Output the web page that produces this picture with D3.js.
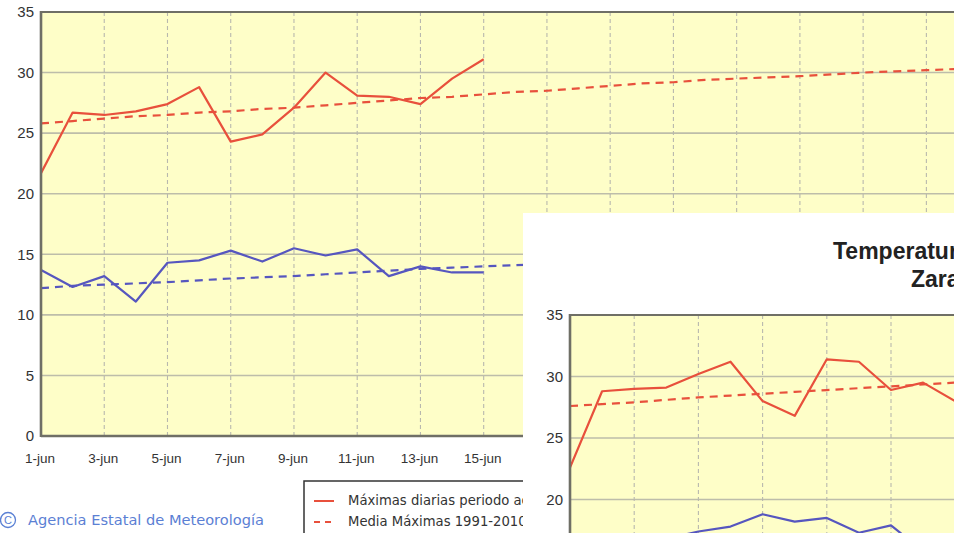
<!DOCTYPE html>
<html><head><meta charset="utf-8">
<script src="https://cdn.jsdelivr.net/npm/d3@7/dist/d3.min.js"></script>
<style>
html,body{margin:0;padding:0;background:#fff;overflow:hidden;}
svg{display:block;}
text{font-family:"Liberation Sans",Arial,sans-serif;}
text.verd{font-family:"DejaVu Sans",Verdana,sans-serif;}
</style></head><body>
<svg id="chart" width="954" height="533"></svg>
<script>
// ---------- DATA ----------
const days = [1,2,3,4,5,6,7,8,9,10,11,12,13,14,15,16,17,18,19,20,21,22,23,24,25,26,27,28,29,30];
const tickDays = [1,3,5,7,9,11,13,15,17,19,21,23,25,27,29];
const tickLabels = ["1-jun","3-jun","5-jun","7-jun","9-jun","11-jun","13-jun","15-jun","17-jun","19-jun","21-jun","23-jun","25-jun","27-jun","29-jun"];
const yTicks = [0,5,10,15,20,25,30,35];

// Main chart series
const mainMaxDaily = [21.7,26.7,26.5,26.8,27.4,28.8,24.3,24.9,27.1,30.0,28.1,28.0,27.4,29.5,31.1];
const mainMeanMax = [25.8,26.0,26.2,26.4,26.5,26.7,26.8,27.0,27.1,27.3,27.5,27.7,27.9,28.0,28.2,28.4,28.5,28.7,28.9,29.1,29.2,29.4,29.5,29.6,29.7,29.85,30.0,30.1,30.2,30.3];
const mainMinDaily = [13.7,12.3,13.2,11.1,14.3,14.5,15.3,14.4,15.5,14.9,15.4,13.2,14.0,13.5,13.5];
const mainMeanMin = [12.2,12.4,12.5,12.6,12.7,12.85,13.0,13.1,13.2,13.35,13.5,13.65,13.8,13.9,14.0,14.1,14.2,14.35,14.5,14.6,14.7,14.8,14.9,15.0,15.1,15.2,15.3,15.4,15.5,15.6];

// Inset chart series
const insetMaxDaily = [22.6,28.8,29.0,29.1,30.2,31.2,28.0,26.8,31.4,31.2,28.9,29.5,28.0];
const insetMeanMax = [27.6,27.75,27.9,28.1,28.3,28.45,28.6,28.75,28.9,29.05,29.2,29.35,29.5,29.6,29.7,29.8,29.9,30.0,30.1,30.2,30.3,30.4,30.5,30.6,30.7,30.8,30.9,31.0,31.1,31.2];
const insetMinDaily = [15.8,15.5,16.4,16.8,17.4,17.8,18.8,18.2,18.5,17.3,17.9,15.8,16.8];
const insetMeanMin = [14.5,14.6,14.7,14.8,14.9,15.0,15.1,15.2,15.3,15.4,15.5,15.6,15.7,15.8,15.9,16.0,16.1,16.2,16.3,16.4,16.5,16.6,16.7,16.8,16.9,17.0,17.1,17.2,17.3,17.4];
const insetYTicks = [20,25,30,35];

const legendItems = [
  {label:"Máximas diarias periodo actual", color:"#e8503c", dash:null},
  {label:"Media Máximas 1991-2010", color:"#e8503c", dash:"6,5"}
];

const RED = "#e8503c", BLUE = "#5656bf", PLOT_BG = "#fefec8";

const svg = d3.select("#chart");

function drawPlot(g, opt){
  const x = d3.scaleLinear().domain([1,30]).range([opt.left, opt.right]);
  const y = d3.scaleLinear().domain([0,35]).range([opt.bottom, opt.top]);
  const clipId = opt.id + "-clip";
  g.append("clipPath").attr("id", clipId).append("rect")
    .attr("x", opt.left).attr("y", opt.top).attr("width", opt.right-opt.left).attr("height", opt.bottom-opt.top);
  g.append("rect").attr("x", opt.left).attr("y", opt.top)
    .attr("width", opt.right-opt.left).attr("height", opt.bottom-opt.top).attr("fill", PLOT_BG);
  // horizontal grid
  g.append("g").selectAll("line").data(yTicks.filter(v=>v>0 && v<35)).join("line")
    .attr("x1", opt.left).attr("x2", opt.right)
    .attr("y1", d=>y(d)).attr("y2", d=>y(d))
    .attr("stroke", "#bdbdaa").attr("stroke-width", 1.6);
  // vertical dashed grid
  g.append("g").selectAll("line").data(tickDays.filter(d=>d>1)).join("line")
    .attr("x1", d=>x(d)).attr("x2", d=>x(d))
    .attr("y1", opt.top).attr("y2", opt.bottom)
    .attr("stroke", "#b8b8ae").attr("stroke-width", 1.1).attr("stroke-dasharray", "4,3");
  // series
  const line = d3.line().x((d,i)=>x(days[i])).y(d=>y(d));
  const lg = g.append("g").attr("clip-path", `url(#${clipId})`);
  const series = [
    {data: opt.meanMax, color: RED, dash:"8,6"},
    {data: opt.meanMin, color: BLUE, dash:"8,6"},
    {data: opt.maxDaily, color: RED, dash:null},
    {data: opt.minDaily, color: BLUE, dash:null}
  ];
  series.forEach(s=>{
    lg.append("path").attr("d", line(s.data)).attr("fill","none")
      .attr("stroke", s.color).attr("stroke-width", 2.2)
      .attr("stroke-dasharray", s.dash).attr("stroke-linejoin","round");
  });
  // borders
  g.append("line").attr("x1", opt.left).attr("x2", opt.right).attr("y1", opt.top).attr("y2", opt.top)
    .attr("stroke", "#6f6f66").attr("stroke-width", 2);
  g.append("line").attr("x1", opt.left).attr("x2", opt.right).attr("y1", opt.bottom).attr("y2", opt.bottom)
    .attr("stroke", "#6f6f66").attr("stroke-width", 2.4);
  g.append("line").attr("x1", opt.left).attr("x2", opt.left).attr("y1", opt.top-1).attr("y2", opt.bottom+1)
    .attr("stroke", "#6f6f66").attr("stroke-width", 2.6);
  // y labels
  g.append("g").selectAll("text").data(opt.yLabels).join("text")
    .attr("x", opt.left-7).attr("y", d=>y(d)).attr("dy","0.35em")
    .attr("text-anchor","end").attr("font-size", opt.yFont).attr("fill","#333")
    .text(d=>d);
  // x labels
  if (opt.xLabels){
    g.append("g").selectAll("text").data(tickDays).join("text")
      .attr("x", d=>x(d)-1).attr("y", opt.bottom+27)
      .attr("text-anchor","middle").attr("font-size", 13.5).attr("fill","#333")
      .text((d,i)=>tickLabels[i]);
  }
  return {x,y};
}

// ---------- MAIN CHART ----------
const main = svg.append("g");
drawPlot(main, {id:"main", left:41, right:958, top:12, bottom:436,
  maxDaily: mainMaxDaily, meanMax: mainMeanMax, minDaily: mainMinDaily, meanMin: mainMeanMin,
  yLabels: yTicks, yFont: 15, xLabels: true});

// legend (partly hidden behind the inset, as in the original)
main.append("clipPath").attr("id","leg-clip").append("rect")
  .attr("x",0).attr("y",0).attr("width",523).attr("height",533);
const leg = main.append("g").attr("clip-path","url(#leg-clip)");
leg.append("rect").attr("x",304).attr("y",481).attr("width",330).attr("height",90)
  .attr("fill","#fff").attr("stroke","#333").attr("stroke-width",1.5);
legendItems.forEach((it,i)=>{
  const yy = 500 + i*21;
  leg.append("line").attr("x1",314).attr("x2",334).attr("y1",yy+1).attr("y2",yy+1)
    .attr("stroke",it.color).attr("stroke-width",2).attr("stroke-dasharray",it.dash);
  leg.append("text").attr("class","verd").attr("x",348).attr("y",yy).attr("dy","0.35em")
    .attr("font-size",13.2).attr("fill","#333").text(it.label);
});

// credit
const cr = main.append("g");
cr.append("circle").attr("cx",8).attr("cy",520).attr("r",7.5).attr("fill","none").attr("stroke","#5b80d4").attr("stroke-width",1.3);
cr.append("text").attr("x",8).attr("y",520).attr("dy","0.36em").attr("text-anchor","middle")
  .attr("font-size",11).attr("fill","#5b80d4").text("C");
cr.append("text").attr("class","verd").attr("x",28).attr("y",520).attr("dy","0.36em")
  .attr("font-size",14).attr("fill","#5b80d4").attr("textLength",236).attr("lengthAdjust","spacingAndGlyphs")
  .text("Agencia Estatal de Meteorología");

// ---------- INSET ----------
const inset = svg.append("g");
inset.append("rect").attr("x",523).attr("y",213).attr("width",440).attr("height",330).attr("fill","#fff");
inset.append("text").attr("x",833).attr("y",259).attr("font-size",23).attr("font-weight","bold").attr("fill","#222")
  .text("Temperaturas diarias junio 2017");
inset.append("text").attr("x",911).attr("y",287).attr("font-size",23).attr("font-weight","bold").attr("fill","#222")
  .text("Zaragoza Aeropuerto");
drawPlot(inset, {id:"inset", left:570, right:570+29*32.1, top:315, bottom:315+35*12.3,
  maxDaily: insetMaxDaily, meanMax: insetMeanMax, minDaily: insetMinDaily, meanMin: insetMeanMin,
  yLabels: insetYTicks, yFont: 15, xLabels: false});
</script>
</body></html>
